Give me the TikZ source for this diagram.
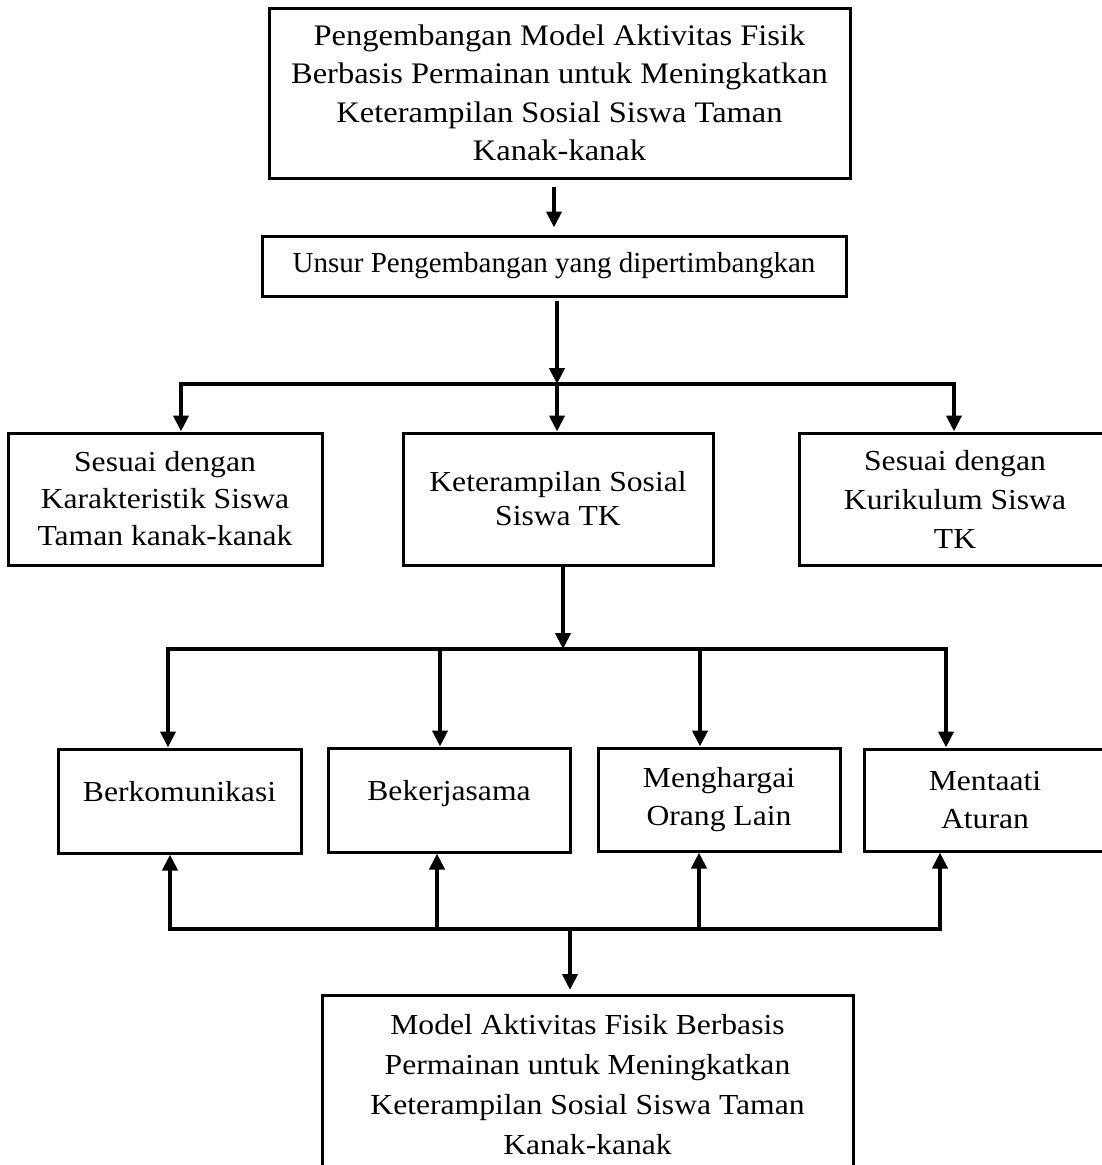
\documentclass[tikz,border=0pt]{standalone}
\usepackage{fontspec}
\setmainfont{Liberation Serif}[FakeStretch=1.09]
\newfontfamily\plainfont{Liberation Serif}
\usetikzlibrary{arrows.meta}
\begin{document}
\begin{tikzpicture}[x=1pt,y=-1pt,
  box/.style={draw, line width=3pt, inner sep=0pt, align=center, font=\fontsize{29}{38}\selectfont},
  conn/.style={line width=4pt},
  arr/.style={line width=4pt, line join=miter, -{Triangle[length=16pt,width=15pt]}},
  oneline/.style={text height=20pt, text depth=20pt}
]
\useasboundingbox (0,0) rectangle (1102,1165);

% boxes
\node[box, minimum width=581pt, minimum height=170pt, font=\fontsize{29.8}{38.5}\selectfont] (top) at (559.5,93)
  {Pengembangan Model Aktivitas Fisik\\Berbasis Permainan untuk Meningkatkan\\Keterampilan Sosial Siswa Taman\\Kanak-kanak};
\node[box, minimum width=584pt, minimum height=60pt, font=\plainfont\fontsize{29}{38}\selectfont] (unsur) at (554,266)
  {Unsur Pengembangan yang dipertimbangkan};

\node[box, minimum width=314pt, minimum height=132pt, font=\fontsize{29}{37}\selectfont] (left) at (165,499)
  {Sesuai dengan\\Karakteristik Siswa\\Taman kanak-kanak};
\node[box, minimum width=310pt, minimum height=132pt, font=\fontsize{29}{34}\selectfont] (mid) at (558,499)
  {Keterampilan Sosial\\Siswa TK};
\node[box, minimum width=312pt, minimum height=132pt, font=\fontsize{29}{39}\selectfont] (right) at (955,499)
  {Sesuai dengan\\Kurikulum Siswa\\TK};

\node[box, oneline, minimum width=243pt, minimum height=104pt] (k1) at (179.5,801) {Berkomunikasi};
\node[box, oneline, minimum width=242pt, minimum height=104pt] (k2) at (449,800) {Bekerjasama};
\node[box, minimum width=242pt, minimum height=103pt] (k3) at (719,799.5) {Menghargai\\Orang Lain};
\node[box, minimum width=242pt, minimum height=102pt] (k4) at (985,800) {Mentaati\\Aturan};

\node[box, anchor=north, minimum width=531pt, inner ysep=19pt, font=\fontsize{29}{40}\selectfont] (bottom) at (587.5,994)
  {Model Aktivitas Fisik Berbasis\\Permainan untuk Meningkatkan\\Keterampilan Sosial Siswa Taman\\Kanak-kanak};

% junction points
\coordinate (j1) at (557,384);
\coordinate (b1L) at (181,384);
\coordinate (b1R) at (954,384);
\coordinate (j2) at (563,649);
\coordinate (b2L) at (168,649);
\coordinate (b2a) at (440,649);
\coordinate (b2b) at (700,649);
\coordinate (b2R) at (946,649);
\coordinate (j3) at (570,929);
\coordinate (b3L) at (170,929);
\coordinate (b3a) at (437,929);
\coordinate (b3b) at (699,929);
\coordinate (b3R) at (940,929);

% connectors
\draw[arr, shorten <=7pt, shorten >=7pt] (top.south -| unsur.north) -- (unsur.north);
\draw[arr, shorten <=3pt] (unsur.south -| j1) -- (j1);
\draw[arr] (j1) -- (b1L) -- (left.north -| b1L);
\draw[arr] (j1) -- (b1R) -- (right.north -| b1R);
\draw[arr] (j1) -- (mid.north -| j1);

\draw[arr] (mid.south -| j2) -- (j2);
\draw[arr] (j2) -- (b2L) -- (k1.north -| b2L);
\draw[arr] (j2) -- (b2R) -- (k4.north -| b2R);
\draw[arr] (b2a) -- (k2.north -| b2a);
\draw[arr] (b2b) -- (k3.north -| b2b);

\draw[arr] (j3) -- (b3L) -- (k1.south -| b3L);
\draw[arr] (j3) -- (b3R) -- (k4.south -| b3R);
\draw[arr] (b3a) -- (k2.south -| b3a);
\draw[arr] (b3b) -- (k3.south -| b3b);
\draw[arr, shorten >=4pt] (j3) -- (bottom.north -| j3);
\end{tikzpicture}
\end{document}
